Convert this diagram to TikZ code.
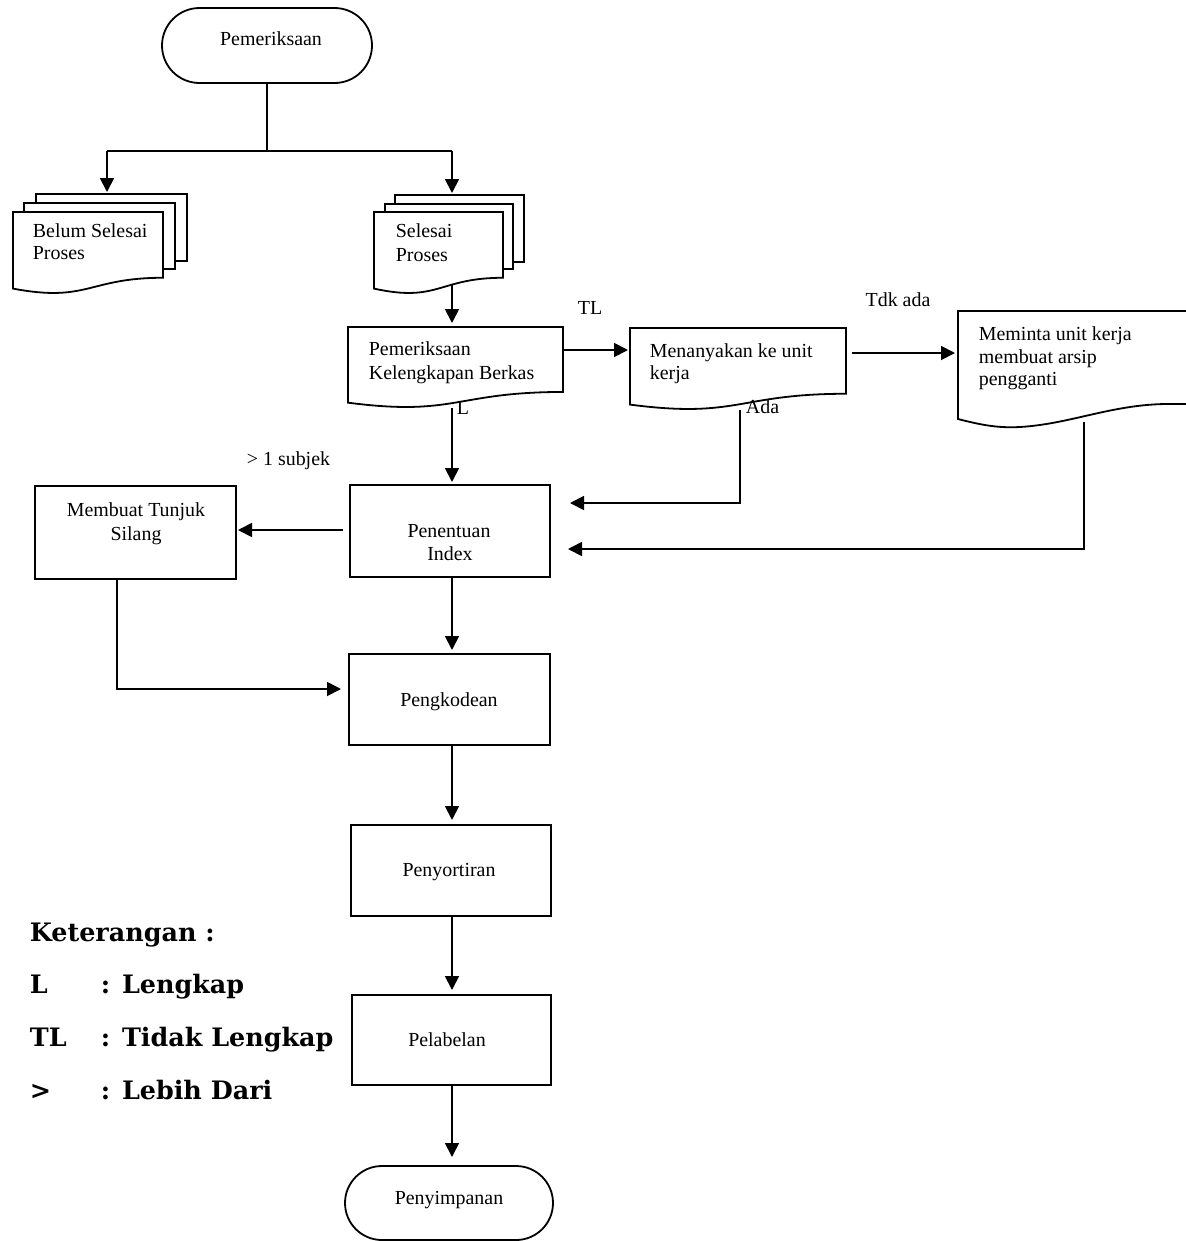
\documentclass[tikz,border=0pt]{standalone}
\usepackage{fontspec}
\setmainfont{Liberation Serif}
\newfontfamily\legfont{DejaVu Serif}
\usetikzlibrary{arrows.meta,calc}
\newcommand\docpath[1]{%
  \draw[fill=white] (#1.north west) -- (#1.north east) -- ($(#1.north east)!0.802!(#1.south east)$)
    .. controls ($(#1.north)!0.802!(#1.south)$) and ($(#1.north)!1.1075!(#1.south)$) ..
    ($(#1.north west)!0.934!(#1.south west)$) -- cycle;}
\newcommand\rectpath[1]{\draw[fill=white] (#1.north west) rectangle (#1.south east);}
\begin{document}
\begin{tikzpicture}[x=1bp,y=-1bp,line width=1.8bp,
  geo/.style={draw=none,inner sep=0,outer sep=0,anchor=north west},
  arr/.style={-{Triangle[length=14bp,width=14bp]}},
  tl/.style={inner sep=0,anchor=base west,font=\fontsize{20}{23}\selectfont},
  tc/.style={inner sep=0,anchor=base,font=\fontsize{20}{23}\selectfont},
  lg/.style={inner sep=0,anchor=base west,font=\legfont\bfseries\fontsize{25.5}{30}\selectfont}]
\useasboundingbox (0,0) rectangle (1186,1241);
\clip (0,0) rectangle (1186,1241);
% geometry
\node[geo,minimum width=210bp,minimum height=75bp] (t1) at (162,8) {};
\node[geo,minimum width=151bp,minimum height=67bp] (lb) at (36,194) {};
\node[geo,minimum width=151bp,minimum height=66bp] (lm) at (24,203) {};
\node[geo,minimum width=150bp,minimum height=82bp] (lf) at (13,212) {};
\node[geo,minimum width=129bp,minimum height=67bp] (rb) at (395,195) {};
\node[geo,minimum width=128bp,minimum height=65bp] (rm) at (385,204) {};
\node[geo,minimum width=129bp,minimum height=82bp] (rf) at (374,212) {};
\node[geo,minimum width=215bp,minimum height=81bp] (d1) at (348,327) {};
\node[geo,minimum width=216bp,minimum height=82bp] (d2) at (630,328) {};
\node[geo,minimum width=242bp,minimum height=116bp] (d3) at (958,311) {};
\node[geo,minimum width=201bp,minimum height=93bp] (mts) at (35,486) {};
\node[geo,minimum width=200bp,minimum height=92bp] (pen) at (350,485) {};
\node[geo,minimum width=201bp,minimum height=91bp] (pkd) at (349,654) {};
\node[geo,minimum width=200bp,minimum height=91bp] (psr) at (351,825) {};
\node[geo,minimum width=199bp,minimum height=90bp] (plb) at (352,995) {};
\node[geo,minimum width=208bp,minimum height=74bp] (t2) at (345,1166) {};
\coordinate (jl) at (107,151);
\coordinate (jr) at (452,151);
% connectors
\draw (t1.south) -- (t1.south |- jl);
\draw (jl) -- (jr);
\draw[arr] (jl) -- ($(jl |- lb.north)+(0,-2)$);
\draw[arr] (jr) -- ($(jr |- rb.north)+(0,-2)$);
\draw[arr] (jr |- rf.center) -- ($(jr |- d1.north)+(0,-4)$);
\coordinate (a1) at ($(d1.north east)+(0,23)$);
\draw[arr] (a1) -- ($(a1 -| d2.west)+(-2,0)$);
\coordinate (a2) at ($(d2.north east)+(6,25)$);
\draw[arr] (a2) -- ($(a2 -| d3.west)+(-3,0)$);
\coordinate (a3) at ($(d2.south west)+(110,0)$);
\coordinate (a3e) at ($(pen.north east)+(20,18)$);
\draw[arr] (a3) |- (a3e);
\coordinate (a4) at ($(d3.south west)+(126,-5)$);
\coordinate (a4e) at ($(pen.south east)+(18,-28)$);
\draw[arr] (a4) |- (a4e);
\draw[arr] (jr |- d1.south) -- ($(jr |- pen.north)+(0,-3)$);
\coordinate (a5) at ($(pen.north west)+(-7,45)$);
\draw[arr] (a5) -- ($(a5 -| mts.east)+(2,0)$);
\coordinate (a6) at ($(mts.south west)+(82,0)$);
\coordinate (a6e) at ($(pkd.north west)+(-8,35)$);
\draw[arr] (a6) |- (a6e);
\draw[arr] (jr |- pen.south) -- ($(jr |- pkd.north)+(0,-4)$);
\draw[arr] (jr |- pkd.south) -- ($(jr |- psr.north)+(0,-5)$);
\draw[arr] (jr |- psr.south) -- ($(jr |- plb.north)+(0,-5)$);
\draw[arr] (jr |- plb.south) -- ($(jr |- t2.north)+(0,-9)$);
% shapes
\draw[fill=white,rounded corners=37.5bp] (t1.north west) rectangle (t1.south east);
\rectpath{lb}\rectpath{lm}\docpath{lf}
\rectpath{rb}\rectpath{rm}\docpath{rf}
\docpath{d1}\docpath{d2}
\draw[fill=white] (d3.north west) -- (d3.north east) -- (1200,404) -- (1165,404)
  .. controls (1110,405) and (1070,424) .. (1020,427)
  .. controls (1000,428) and (985,426) .. (958,419) -- cycle;
\rectpath{mts}\rectpath{pen}\rectpath{pkd}\rectpath{psr}\rectpath{plb}
\draw[fill=white,rounded corners=37bp] (t2.north west) rectangle (t2.south east);
% texts
\node[tc] (t1t) at (271,45) {Pemeriksaan};
\node[tl] (lf1) at (32,237) {Belum Selesai};
\node[tl] (lf2) at (32,259) {Proses};
\node[tl] (rf1) at (395,237) {Selesai};
\node[tl] (rf2) at (395,261) {Proses};
\node[tl] (d1a) at (368,355) {Pemeriksaan};
\node[tl] (d1b) at (368,379) {Kelengkapan Berkas};
\node[tl] (d2a) at (649,357) {Menanyakan ke unit};
\node[tl] (d2b) at (649,379) {kerja};
\node[tl] (d3a) at (978,340) {Meminta unit kerja};
\node[tl] (d3b) at (978,363) {membuat arsip};
\node[tl] (d3c) at (978,385) {pengganti};
\node[tc] (mts1) at (136,516) {Membuat Tunjuk};
\node[tc] (mts2) at (136,540) {Silang};
\node[tc] (pen1) at (449,537) {Penentuan};
\node[tc] (pen2) at (450,560) {Index};
\node[tc] (pkdt) at (449,706) {Pengkodean};
\node[tc] (psrt) at (449,876) {Penyortiran};
\node[tc] (plbt) at (447,1046) {Pelabelan};
\node[tc] (t2t) at (449,1204) {Penyimpanan};
\node[tc] (lTL) at (590,314) {TL};
\node[tc] (lTdk) at (898,306) {Tdk ada};
\node[tl] (lL) at (456,414) {L};
\node[tl] (lAda) at (745,413) {Ada};
\node[tl] (lsub) at (246,465) {> 1 subjek};
% legend
\node[lg] (k0) at (29,941) {Keterangan :};
\node[lg] (k1a) at (29,993) {L};
\node[lg] (k1b) at (100,993) {: Lengkap};
\node[lg] (k2a) at (29,1046) {TL};
\node[lg] (k2b) at (100,1046) {: Tidak Lengkap};
\node[lg] (k3a) at (29,1099) {>};
\node[lg] (k3b) at (100,1099) {: Lebih Dari};
\end{tikzpicture}
\end{document}
